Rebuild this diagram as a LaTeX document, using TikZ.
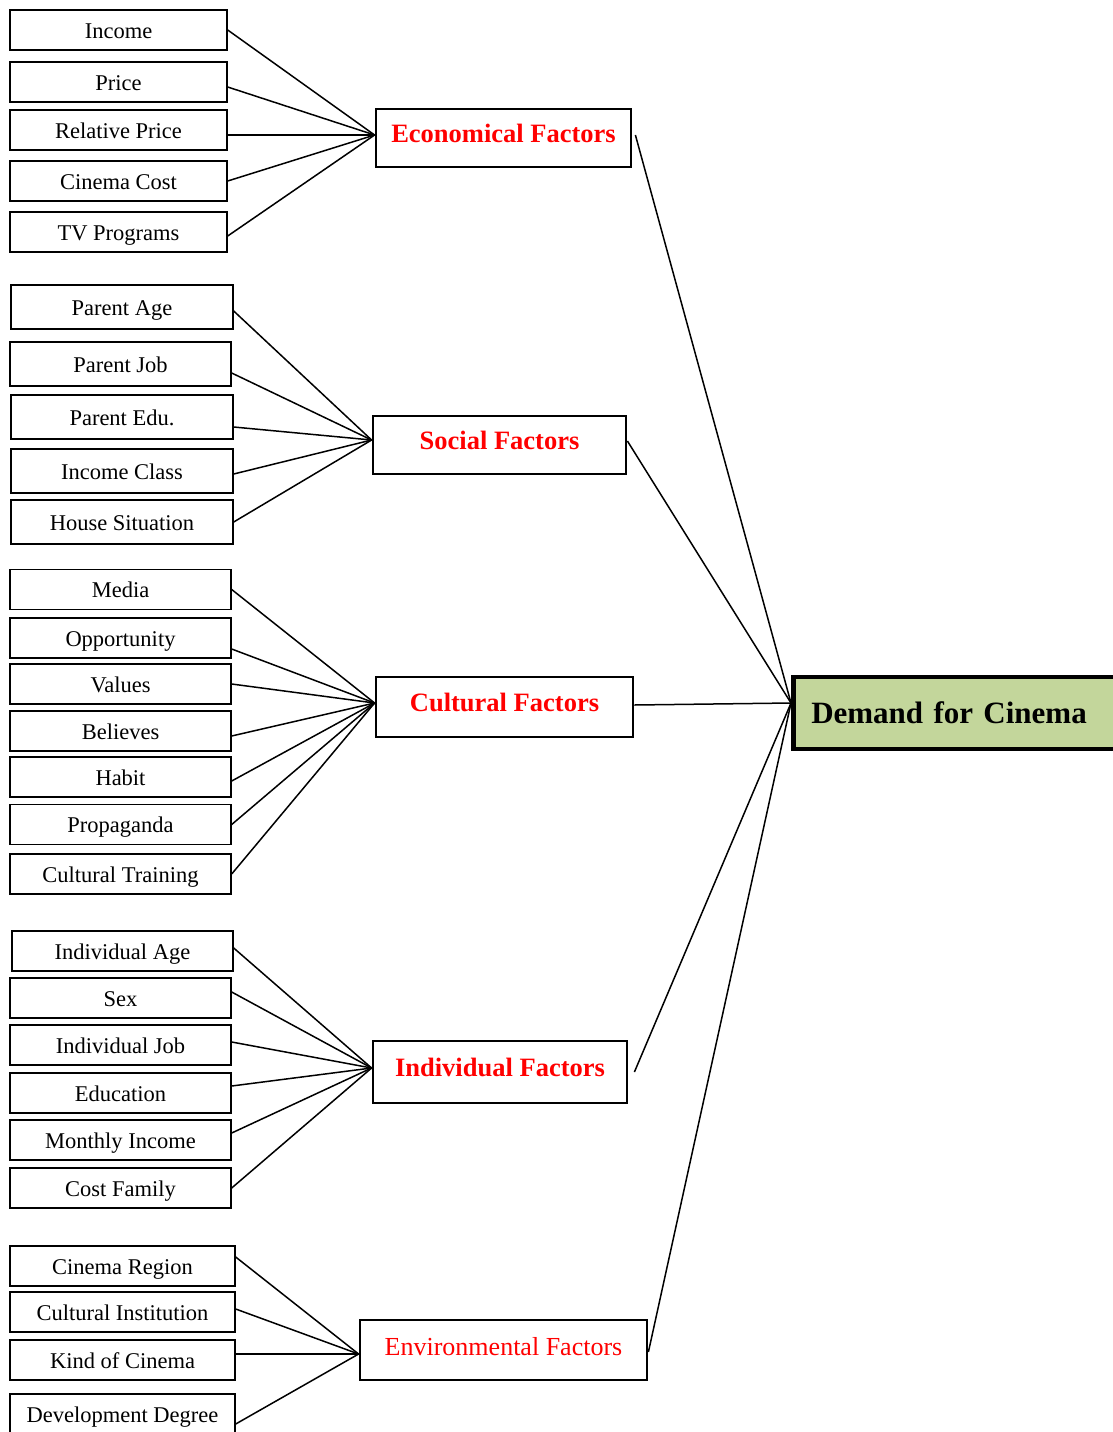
\documentclass[tikz,border=0pt]{standalone}
\usepackage{fontspec}
\setmainfont{Liberation Serif}
\usepackage{xcolor}
\usetikzlibrary{positioning}
\definecolor{demandgreen}{HTML}{C3D69B}

\begin{document}
\begin{tikzpicture}[x=1pt, y=-1pt,
    leaf/.style={draw, line width=1.4pt, minimum height=40pt, inner sep=0pt,
      text height=18pt, text depth=2pt, font=\fontsize{22.5}{24}\selectfont},
    factor/.style={draw, line width=2.8pt, minimum height=58pt, inner sep=0pt,
      text height=20pt, text depth=12pt,
      text=red, font=\fontsize{26.5}{28}\selectfont\bfseries},
    link/.style={line width=1.5pt}]
   \useasboundingbox (0,0) rectangle (1112,1432);

   \node[leaf, minimum width=217pt] (inc)  at (118.5,30)  {Income};
   \node[leaf, minimum width=217pt] (pri)  at (118.5,82)  {Price};
   \node[leaf, minimum width=217pt] (rel)  at (118.5,130) {Relative Price};
   \node[leaf, minimum width=217pt] (cic)  at (118.5,181) {Cinema Cost};
   \node[leaf, minimum width=217pt] (tvp)  at (118.5,232) {TV Programs};

   \node[leaf, minimum width=222pt, minimum height=44pt] (pag) at (122,307) {Parent Age};
   \node[leaf, minimum width=221pt, minimum height=44pt] (pjb) at (120.5,364) {Parent Job};
   \node[leaf, minimum width=222pt, minimum height=44pt] (ped) at (122,417) {Parent Edu.};
   \node[leaf, minimum width=222pt, minimum height=44pt] (icl) at (122,471) {Income Class};
   \node[leaf, minimum width=222pt, minimum height=44pt] (hsi) at (122,522) {House Situation};

   \node[leaf, minimum width=221pt] (med) at (120.5,589.5) {Media};
   \node[leaf, minimum width=221pt] (opp) at (120.5,638)   {Opportunity};
   \node[leaf, minimum width=221pt] (val) at (120.5,684)   {Values};
   \node[leaf, minimum width=221pt] (bel) at (120.5,731)   {Believes};
   \node[leaf, minimum width=221pt] (hab) at (120.5,777)   {Habit};
   \node[leaf, minimum width=221pt] (pro) at (120.5,824.5) {Propaganda};
   \node[leaf, minimum width=221pt] (ctr) at (120.5,874)   {Cultural Training};

   \node[leaf, minimum width=221pt] (iag) at (122.5,951)  {Individual Age};
   \node[leaf, minimum width=221pt] (sex) at (120.5,998)  {Sex};
   \node[leaf, minimum width=221pt] (ijb) at (120.5,1045) {Individual Job};
   \node[leaf, minimum width=221pt] (edu) at (120.5,1093) {Education};
   \node[leaf, minimum width=221pt] (min) at (120.5,1140) {Monthly Income};
   \node[leaf, minimum width=221pt] (cfa) at (120.5,1188) {Cost Family};

   \node[leaf, minimum width=225pt] (cre) at (122.5,1266) {Cinema Region};
   \node[leaf, minimum width=225pt] (cin) at (122.5,1312) {Cultural Institution};
   \node[leaf, minimum width=225pt] (kin) at (122.5,1360) {Kind of Cinema};
   \node[leaf, minimum width=225pt] (dev) at (122.5,1414) {Development Degree};

   \node[factor, minimum width=255pt] (eco) at (503.5,138) {Economical Factors};
   \node[factor, minimum width=253pt] (soc) at (499.5,445) {Social Factors};
   \node[factor, minimum width=257pt, minimum height=60pt] (cul) at (504.5,707) {Cultural Factors};
   \node[factor, minimum width=254pt, minimum height=62pt] (ind) at (500,1072) {Individual Factors};
   \node[factor, minimum width=287pt, minimum height=60pt, text height=22pt,
     font=\fontsize{26}{28}\selectfont] (env) at (503.5,1350) {Environmental Factors};

   \node[draw, line width=4.5pt, fill=demandgreen, anchor=west, minimum height=72pt,
     text width=304pt, inner xsep=18pt, align=left,
     font=\fontsize{31}{34}\selectfont\bfseries] (dem) at (791,713) {Demand for Cinema};
   \coordinate (hub) at ([yshift=10pt]dem.west);

   \path[link]
    (inc.east) edge ([yshift=3pt]eco.west)
    ([yshift=-5pt]pri.east) edge ([yshift=3pt]eco.west)
    ([yshift=-5pt]rel.east) edge ([yshift=3pt]eco.west)
    (cic.east) edge ([yshift=3pt]eco.west)
    ([yshift=-4pt]tvp.east) edge ([yshift=3pt]eco.west)
    ([yshift=-4pt]pag.east) edge ([yshift=5pt]soc.west)
    ([yshift=-9pt]pjb.east) edge ([yshift=5pt]soc.west)
    ([yshift=-10pt]ped.east) edge ([yshift=5pt]soc.west)
    ([yshift=-3pt]icl.east) edge ([yshift=5pt]soc.west)
    (hsi.east) edge ([yshift=5pt]soc.west)
    (med.east) edge ([yshift=4pt]cul.west)
    ([yshift=-11pt]opp.east) edge ([yshift=4pt]cul.west)
    (val.east) edge ([yshift=4pt]cul.west)
    ([yshift=-5pt]bel.east) edge ([yshift=4pt]cul.west)
    ([yshift=-4pt]hab.east) edge ([yshift=4pt]cul.west)
    (pro.east) edge ([yshift=4pt]cul.west)
    (ctr.east) edge ([yshift=4pt]cul.west)
    ([yshift=3pt]iag.east) edge ([yshift=4pt]ind.west)
    ([yshift=6pt]sex.east) edge ([yshift=4pt]ind.west)
    ([yshift=3pt]ijb.east) edge ([yshift=4pt]ind.west)
    ([yshift=7pt]edu.east) edge ([yshift=4pt]ind.west)
    ([yshift=7pt]min.east) edge ([yshift=4pt]ind.west)
    (cfa.east) edge ([yshift=4pt]ind.west)
    ([yshift=9pt]cre.east) edge ([yshift=-4pt]env.west)
    ([yshift=3pt]cin.east) edge ([yshift=-4pt]env.west)
    ([yshift=6pt]kin.east) edge ([yshift=-4pt]env.west)
    ([yshift=-10pt]dev.east) edge ([yshift=-4pt]env.west)
    ([xshift=3pt, yshift=3pt]eco.east) edge (hub)
    ([yshift=4pt]soc.east) edge (hub)
    ([yshift=2pt]cul.east) edge (hub)
    ([xshift=6pt]ind.east) edge (hub)
    ([yshift=-2pt]env.east) edge (hub)
    ;
\end{tikzpicture}
\end{document}
